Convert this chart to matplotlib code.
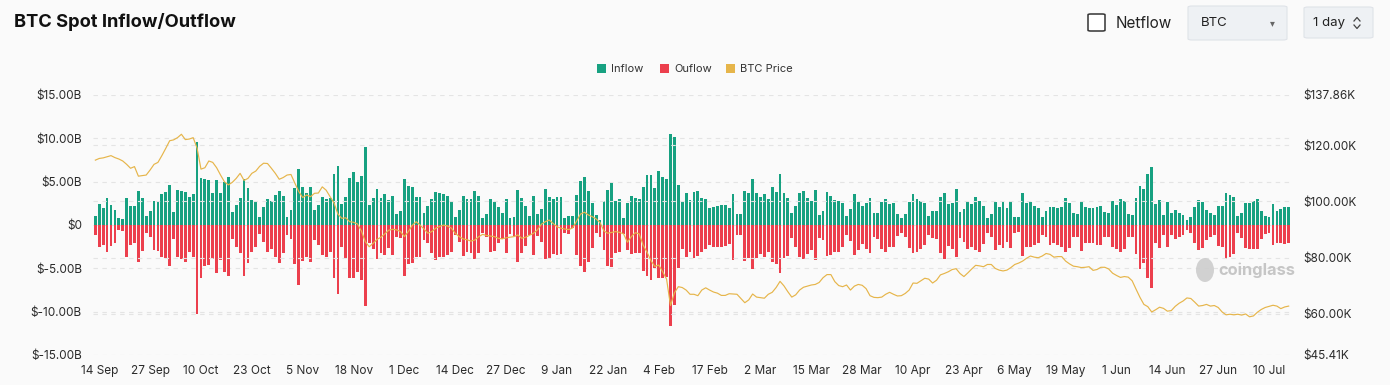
import matplotlib
matplotlib.use("Agg")
import matplotlib.pyplot as plt
from matplotlib.patches import FancyBboxPatch, Rectangle, Ellipse
from matplotlib.lines import Line2D
import numpy as np
import pandas as pd

plt.rcParams['font.family'] = ['Inter', 'DejaVu Sans']

# ---------------- data ----------------
start_date = "2025-09-13"

inflow = [
    1.08, 2.42, 2.0, 3.08, 2.31, 1.73, 0.81, 0.65, 3.15, 2.19, 2.19, 3.92, 3.15, 1.08, 1.65,
    2.81, 2.81, 3.62, 3.81, 4.58, 1.5, 4.0, 3.88, 3.81, 3.27, 3.54, 9.54, 5.38, 5.27,
    5.19, 3.65, 5.19, 3.73, 5.0, 5.5, 1.54, 2.27, 3.12, 5.31, 4.27, 2.92, 2.69, 0.88, 2.12,
    3.0, 2.81, 3.5, 3.92, 3.35, 0.96, 1.69, 4.23, 6.42, 4.42, 3.65, 4.38, 1.69, 2.31, 3.19, 3.0,
    3.08, 5.85, 6.85, 2.42, 3.27, 5.46, 6.12, 4.96, 5.65, 9.04, 2.31, 3.15, 4.12, 3.08, 3.54,
    2.88, 3.35, 1.27, 1.65, 5.35, 4.5, 4.42, 3.27, 3.27, 1.42, 2.19, 2.96, 3.81, 3.65, 3.54, 3.35,
    2.81, 0.88, 1.73, 3.38, 3.04, 3.04, 3.92, 3.38, 0.77, 1.23, 3.0, 2.65, 2.12, 1.35, 3.04,
    0.81, 0.96, 4.0, 3.08, 2.19, 1.04, 3.38, 1.23, 1.81, 4.19, 3.19, 2.96, 3.23, 3.19, 0.77, 1.08,
    1.08, 3.46, 5.08, 5.54, 3.96, 2.5, 1.15, 0.58, 2.81, 4.04, 4.81, 2.81, 3.04, 0.77, 2.5,
    3.38, 3.15, 3.04, 4.42, 5.73, 5.73, 4.31, 6.27, 5.58, 5.27, 10.5, 10.19, 4.62, 2.65, 3.65, 2.88,
    3.77, 3.88, 3.15, 3.04, 1.92, 2.12, 2.23, 2.35, 2.27, 2.0, 3.54, 1.27, 1.27, 3.96, 3.65,
    5.35, 3.73, 3.27, 3.58, 3.0, 4.42, 3.77, 5.92, 3.65, 3.15, 1.35, 2.23, 3.65, 3.96, 3.12, 2.73,
    4.0, 1.15, 1.65, 3.77, 3.38, 2.88, 2.81, 2.5, 1.08, 1.81, 3.54, 2.62, 2.23, 2.5, 3.15,
    1.35, 1.35, 2.69, 3.0, 2.42, 2.5, 1.23, 0.77, 1.27, 2.69, 3.54, 3.0, 2.81, 2.5, 1.08, 1.65,
    1.65, 3.27, 3.73, 2.38, 2.58, 4.12, 1.46, 1.81, 2.81, 2.42, 3.27, 2.77, 2.19, 0.77, 1.27,
    2.62, 2.04, 2.62, 2.0, 2.81, 0.88, 0.96, 3.65, 2.5, 2.69, 2.19, 2.0, 0.88, 1.62, 2.12, 2.12,
    1.92, 2.12, 3.15, 2.5, 1.35, 1.23, 2.69, 2.12, 2.0, 2.0, 2.12, 2.19, 1.46, 1.35, 2.81,
    2.35, 3.0, 2.81, 1.27, 1.15, 3.12, 4.54, 4.12, 5.88, 6.73, 2.38, 2.88, 1.19, 2.62, 1.35, 1.73,
    1.35, 1.15, 0.58, 0.88, 2.04, 2.88, 2.69, 1.73, 1.35, 1.15, 2.23, 2.19, 3.73, 3.42, 3.19,
    1.08, 1.42, 2.58, 2.5, 2.81, 3.04, 1.65, 1.04, 0.96, 2.46, 1.65, 1.88, 2.12, 2.04,
]

outflow = [
    1.15, 2.5, 2.31, 3.15, 2.42, 2.04, 0.58, 0.69, 3.73, 2.31, 2.12, 4.23, 3.0, 0.88, 1.35,
    2.88, 3.0, 3.65, 3.77, 4.73, 1.62, 3.73, 3.92, 4.31, 3.08, 3.73, 10.3, 6.08, 4.73,
    4.62, 3.92, 5.5, 4.04, 5.38, 5.88, 1.62, 2.5, 3.19, 5.85, 4.42, 3.08, 2.58, 1.04, 1.92,
    3.08, 2.77, 3.65, 4.35, 3.27, 1.15, 1.62, 4.54, 6.92, 4.12, 3.65, 4.23, 1.73, 2.31, 3.5, 3.65,
    3.08, 6.15, 7.96, 2.5, 3.85, 6.08, 6.15, 5.38, 6.35, 9.35, 2.12, 2.77, 3.96, 3.19, 3.46,
    2.62, 3.46, 1.42, 1.54, 5.88, 4.54, 4.35, 3.73, 3.65, 1.73, 2.12, 3.19, 4.04, 3.73, 3.73, 3.46,
    3.08, 1.15, 2.0, 3.58, 3.08, 3.27, 3.96, 3.19, 0.88, 1.42, 3.08, 3.0, 2.12, 1.62, 3.27,
    1.04, 1.23, 4.23, 3.27, 2.42, 1.15, 3.46, 1.23, 1.92, 3.96, 3.85, 3.35, 3.46, 3.35, 0.88, 1.04,
    0.38, 3.46, 4.73, 5.38, 4.23, 2.69, 0.96, 1.35, 2.88, 4.73, 4.88, 3.19, 3.08, 1.04, 2.88,
    3.38, 3.19, 3.27, 5.27, 5.88, 6.35, 5.0, 6.15, 6.08, 5.96, 11.62, 9.23, 5.0, 2.81, 3.65, 3.08,
    3.85, 3.58, 3.15, 2.77, 2.31, 2.58, 2.5, 2.58, 2.38, 2.19, 4.04, 1.15, 1.15, 4.15, 3.85,
    5.12, 3.85, 3.38, 3.65, 3.08, 4.31, 4.5, 5.58, 3.85, 3.58, 1.46, 2.5, 3.65, 3.92, 3.38, 2.88,
    4.04, 1.54, 1.73, 3.58, 3.46, 3.08, 3.08, 2.58, 1.15, 1.85, 3.46, 2.88, 2.23, 2.77, 3.27,
    1.35, 1.65, 2.81, 3.08, 2.58, 2.58, 1.27, 0.96, 1.35, 2.69, 3.27, 3.08, 2.77, 2.31, 1.15, 1.54,
    1.62, 3.27, 3.92, 2.38, 2.77, 3.73, 1.54, 2.0, 2.77, 2.5, 2.88, 3.08, 2.19, 0.96, 1.42,
    2.88, 2.31, 2.62, 1.92, 2.69, 0.88, 0.85, 3.58, 2.58, 2.5, 2.31, 2.04, 1.15, 1.35, 2.31, 2.12,
    2.31, 2.5, 3.15, 2.69, 1.42, 1.35, 3.0, 2.12, 2.04, 2.04, 2.31, 2.31, 1.42, 1.35, 2.5,
    2.77, 3.08, 2.77, 1.35, 1.35, 3.35, 5.08, 4.42, 6.15, 7.31, 2.12, 2.62, 1.15, 2.5, 1.15, 1.62,
    1.35, 1.15, 0.58, 0.96, 2.04, 2.88, 2.69, 1.73, 1.42, 1.15, 2.38, 2.5, 3.96, 3.65, 3.38,
    0.96, 1.54, 2.69, 2.77, 2.81, 2.77, 1.65, 1.04, 0.96, 2.31, 2.04, 2.12, 2.19, 2.12,
]

btc_price_k = [
    114.7, 115.3, 115.5, 115.9, 116.3, 115.6, 115.1, 114.4, 113.2, 111.8, 112.4, 109.0, 109.2, 109.4, 111.2,
    113.2, 113.9, 116.3, 118.9, 121.6, 121.9, 122.7, 123.9, 122.0, 122.2, 122.7, 119.0, 111.5, 112.0, 114.4,
    113.9, 112.0, 109.4, 107.0, 105.9, 106.8, 108.2, 110.0, 107.5, 108.2, 110.0, 110.8, 112.5, 113.6, 113.5,
    111.8, 110.0, 107.9, 108.5, 109.4, 109.6, 106.5, 103.5, 101.4, 102.3, 101.7, 102.9, 103.0, 105.2, 104.0,
    101.7, 99.5, 95.5, 94.0, 94.2, 92.8, 92.6, 92.0, 89.5, 85.7, 83.9, 85.1, 86.5, 87.3, 88.5,
    89.8, 90.1, 89.9, 89.3, 87.5, 89.3, 91.5, 92.8, 91.6, 90.2, 88.7, 89.3, 90.5, 91.1, 91.6,
    91.3, 90.5, 88.7, 87.5, 86.7, 86.4, 85.9, 86.3, 87.5, 88.3, 87.9, 87.7, 87.5, 86.9, 86.7,
    87.1, 87.3, 87.5, 88.1, 86.9, 87.3, 88.0, 88.7, 89.9, 91.9, 92.8, 93.4, 92.2, 91.0, 90.5,
    90.2, 90.0, 90.6, 93.0, 95.5, 96.2, 95.2, 94.6, 93.8, 92.5, 89.5, 88.7, 89.0, 89.3, 89.0,
    88.5, 85.5, 87.5, 88.9, 88.5, 84.5, 82.0, 79.0, 76.9, 77.4, 75.0, 72.4, 63.0, 67.5, 69.7,
    69.4, 68.5, 67.0, 67.0, 66.5, 68.5, 69.3, 68.5, 67.8, 67.4, 66.6, 66.6, 67.2, 67.1, 67.0,
    65.5, 64.0, 65.0, 67.1, 66.0, 65.8, 65.6, 67.0, 67.7, 69.4, 71.6, 70.0, 67.9, 66.0, 66.8,
    68.5, 69.5, 69.9, 70.3, 70.5, 71.2, 72.9, 74.0, 74.0, 71.5, 70.1, 69.7, 70.3, 68.5, 69.9,
    70.5, 70.2, 69.0, 66.5, 65.9, 65.8, 66.0, 67.0, 67.7, 67.0, 66.4, 66.5, 67.3, 68.5, 71.0,
    70.9, 71.8, 72.7, 72.4, 71.0, 72.0, 73.9, 74.4, 75.0, 75.8, 76.1, 74.4, 73.3, 74.6, 76.0,
    77.3, 77.1, 76.8, 77.6, 77.6, 76.2, 75.6, 75.3, 75.6, 76.5, 77.6, 78.1, 78.8, 79.8, 80.6,
    80.2, 80.0, 80.6, 81.5, 81.2, 80.2, 80.4, 80.4, 78.8, 77.8, 77.0, 76.8, 76.5, 76.6, 76.8,
    75.5, 75.8, 76.6, 76.6, 76.0, 74.5, 73.7, 73.0, 73.3, 73.1, 71.8, 68.8, 65.9, 63.4, 62.6,
    60.7, 61.5, 62.4, 62.0, 61.0, 61.2, 62.7, 63.8, 64.6, 65.7, 65.5, 64.2, 62.8, 63.0, 63.4,
    62.8, 63.0, 62.3, 60.7, 59.7, 59.9, 59.7, 59.9, 59.6, 60.0, 59.0, 59.3, 60.6, 61.6, 62.3,
    62.7, 63.1, 62.8, 61.9, 62.5, 62.8,
]

x_tick_labels = ["14 Sep", "27 Sep", "10 Oct", "23 Oct", "5 Nov", "18 Nov", "1 Dec", "14 Dec",
                 "27 Dec", "9 Jan", "22 Jan", "4 Feb", "17 Feb", "2 Mar", "15 Mar", "28 Mar",
                 "10 Apr", "23 Apr", "6 May", "19 May", "1 Jun", "14 Jun", "27 Jun", "10 Jul"]
left_ticks = [15, 10, 5, 0, -5, -10, -15]
left_tick_labels = ["$15.00B", "$10.00B", "$5.00B", "$0", "$-5.00B", "$-10.00B", "$-15.00B"]
right_ticks = [137.86, 120, 100, 80, 60, 45.41]
right_tick_labels = ["$137.86K", "$120.00K", "$100.00K", "$80.00K", "$60.00K", "$45.41K"]

# ---------------- figure ----------------
W, H = 1390, 385
BG = "#fafafa"
GREEN = "#17a181"
RED = "#ec3f4d"
GOLD = "#e6b54a"
TXT = "#2b2b2b"


def fx(x):
    return x / W


def fy(y):
    return 1 - y / H


fig = plt.figure(figsize=(W / 100, H / 100), dpi=100, facecolor=BG)

n = len(inflow)
dates = pd.date_range(start_date, periods=n, freq="D")
idx = np.arange(n)
tick_pos = [int(np.where(dates == pd.Timestamp(d + (" 2025" if d.split()[1] in ("Sep", "Oct", "Nov", "Dec") else " 2026")))[0][0])
            for d in x_tick_labels]

ax = fig.add_axes([fx(93), fy(355), (1291 - 93) / W, (355 - 95) / H])
ax.set_facecolor(BG)
ax.bar(idx, inflow, width=0.72, color=GREEN, zorder=3, linewidth=0)
ax.bar(idx, [-v for v in outflow], width=0.72, color=RED, zorder=3, linewidth=0)
ax.set_xlim(-0.6, n - 0.4)
ax.set_ylim(-15, 15)
for s in ax.spines.values():
    s.set_visible(False)
ax.set_yticks(left_ticks)
ax.set_yticklabels(left_tick_labels)
ax.tick_params(axis="y", length=0, pad=8, labelsize=8.5, labelcolor=TXT)
ax.set_xticks(tick_pos)
ax.set_xticklabels(x_tick_labels)
ax.tick_params(axis="x", length=0, pad=7, labelsize=8.5, labelcolor=TXT)
for v in left_ticks:
    ax.axhline(v, color="#e4e4e4", lw=0.8, ls=(0, (4, 4)), zorder=1)

ax2 = ax.twinx()
ax2.set_ylim(45.41, 137.86)
ax2.plot(idx, btc_price_k, color=GOLD, lw=0.85, zorder=5)
for s in ax2.spines.values():
    s.set_visible(False)
ax2.set_yticks(right_ticks)
ax2.set_yticklabels(right_tick_labels)
ax2.tick_params(axis="y", length=0, pad=9, labelsize=8.5, labelcolor=TXT)
for v in right_ticks[1:-1]:
    ax2.axhline(v, color="#e4e4e4", lw=0.8, ls=(0, (4, 4)), zorder=1)

# ---------------- header ----------------
fig.text(fx(14), fy(22), "BTC Spot Inflow/Outflow", fontsize=13.2, fontweight="bold",
         color="#111111", va="center", ha="left")

# checkbox
fig.patches.append(FancyBboxPatch((fx(1088), fy(31)), fx(17), 17 / H,
                                  boxstyle="round,pad=0,rounding_size=0.002",
                                  transform=fig.transFigure, facecolor="white",
                                  edgecolor="#333333", lw=1.1))
fig.text(fx(1116), fy(23), "Netflow", fontsize=11, color="#222222", va="center", ha="left")

# BTC select
fig.patches.append(FancyBboxPatch((fx(1188), fy(40)), fx(99), 34 / H,
                                  boxstyle="round,pad=0,rounding_size=0.003",
                                  transform=fig.transFigure, facecolor="#eef1f4",
                                  edgecolor="#dfe3e8", lw=0.8))
fig.text(fx(1201), fy(23), "BTC", fontsize=9.5, color="#222222", va="center", ha="left")
fig.text(fx(1272), fy(23), "▾", fontsize=7, color="#666666", va="center", ha="center")

# interval select
fig.patches.append(FancyBboxPatch((fx(1304), fy(38)), fx(69), 31 / H,
                                  boxstyle="round,pad=0,rounding_size=0.003",
                                  transform=fig.transFigure, facecolor="#eef1f4",
                                  edgecolor="#dfe3e8", lw=0.8))
fig.text(fx(1313), fy(23), "1 day", fontsize=9.5, color="#222222", va="center", ha="left")
for y0, y1 in ((21, 17.5), (25, 28.5)):
    fig.lines.append(Line2D([fx(1354), fx(1357), fx(1360)], [fy(y0), fy(y1), fy(y0)],
                            transform=fig.transFigure, color="#444444", lw=0.9))

# legend
for xs, col, lab in ((597, GREEN, "Inflow"), (660, RED, "Ouflow"), (726, GOLD, "BTC Price")):
    fig.patches.append(Rectangle((fx(xs), fy(73)), fx(9), 9 / H, transform=fig.transFigure,
                                 facecolor=col, edgecolor="none"))
    fig.text(fx(xs + 14), fy(69), lab, fontsize=8, color="#333333", va="center", ha="left")

# watermark
fig.patches.append(Ellipse((fx(1205), fy(270)), fx(18), 24 / H, transform=fig.transFigure,
                           facecolor="#cdcdcd", edgecolor="none", alpha=0.9))
fig.text(fx(1218), fy(270), "coinglass", fontsize=11.8, fontweight="bold", color="#c6c6c6",
         va="center", ha="left")

fig.savefig("out.png", dpi=100, facecolor=BG)
